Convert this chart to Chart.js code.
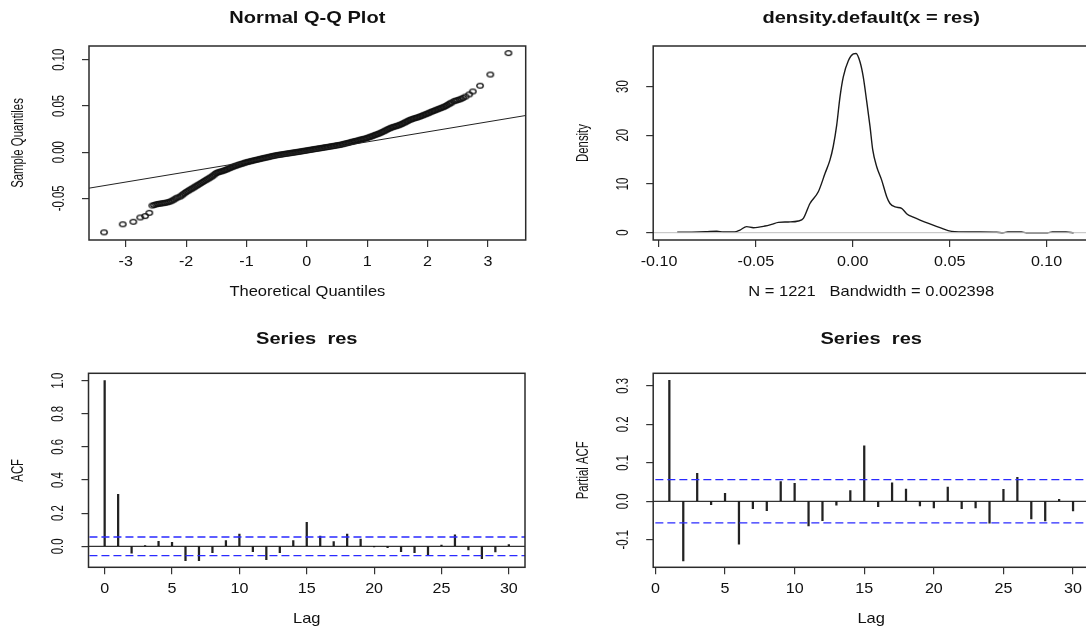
<!DOCTYPE html>
<html>
<head>
<meta charset="utf-8">
<script src="https://cdn.jsdelivr.net/npm/chart.js@4.4.1/dist/chart.umd.min.js"></script>
<style>
  html, body { margin: 0; padding: 0; background: #fff; overflow: hidden; }
  #wrap { position: relative; width: 1086px; height: 628px; overflow: hidden; background: #fff; }
  canvas { position: absolute; }
</style>
</head>
<body>
<div id="wrap">
  <canvas id="qq" width="543" height="314" style="left:0;top:0"></canvas>
  <canvas id="dens" width="560" height="314" style="left:543px;top:0"></canvas>
  <canvas id="acf" width="543" height="314" style="left:0;top:314px"></canvas>
  <canvas id="pacf" width="560" height="314" style="left:543px;top:314px"></canvas>
</div>
<script>
// ---- Normal Q-Q plot of the residuals ----
const qqTheo = [
  // lower tail
  -3.36, -3.05, -2.875, -2.76, -2.68, -2.61, -2.56, -2.53, -2.50, -2.47, -2.44,
  -2.41, -2.38, -2.35, -2.32, -2.29, -2.26, -2.23, -2.20, -2.17, -2.14,
  // body
  -2.100, -2.075, -2.050, -2.025, -2.000, -1.975, -1.950, -1.925, -1.900, -1.875,
  -1.850, -1.825, -1.800, -1.775, -1.750, -1.725, -1.700, -1.675, -1.650, -1.625,
  -1.600, -1.575, -1.550, -1.525, -1.500, -1.475, -1.450, -1.425, -1.400, -1.375,
  -1.350, -1.325, -1.300, -1.275, -1.250, -1.225, -1.200, -1.175, -1.150, -1.125,
  -1.100, -1.075, -1.050, -1.025, -1.000, -0.975, -0.950, -0.925, -0.900, -0.875,
  -0.850, -0.825, -0.800, -0.775, -0.750, -0.725, -0.700, -0.675, -0.650, -0.625,
  -0.600, -0.575, -0.550, -0.525, -0.500, -0.475, -0.450, -0.425, -0.400, -0.375,
  -0.350, -0.325, -0.300, -0.275, -0.250, -0.225, -0.200, -0.175, -0.150, -0.125,
  -0.100, -0.075, -0.050, -0.025, 0.000, 0.025, 0.050, 0.075, 0.100, 0.125,
  0.150, 0.175, 0.200, 0.225, 0.250, 0.275, 0.300, 0.325, 0.350, 0.375,
  0.400, 0.425, 0.450, 0.475, 0.500, 0.525, 0.550, 0.575, 0.600, 0.625,
  0.650, 0.675, 0.700, 0.725, 0.750, 0.775, 0.800, 0.825, 0.850, 0.875,
  0.900, 0.925, 0.950, 0.975, 1.000, 1.025, 1.050, 1.075, 1.100, 1.125,
  1.150, 1.175, 1.200, 1.225, 1.250, 1.275, 1.300, 1.325, 1.350, 1.375,
  1.400, 1.425, 1.450, 1.475, 1.500, 1.525, 1.550, 1.575, 1.600, 1.625,
  1.650, 1.675, 1.700, 1.725, 1.750, 1.775, 1.800, 1.825, 1.850, 1.875,
  1.900, 1.925, 1.950, 1.975, 2.000, 2.025, 2.050, 2.075, 2.100, 2.125,
  2.150, 2.175, 2.200, 2.225, 2.250, 2.275, 2.300, 2.325, 2.350, 2.375, 2.400,
  // upper tail
  2.44, 2.47, 2.50, 2.53, 2.56, 2.59, 2.63, 2.69, 2.75, 2.87, 3.04, 3.34
];
const qqSample = [
  -0.0868, -0.0781, -0.0754, -0.0707, -0.0692, -0.0657, -0.0578, -0.0572, -0.0566, -0.0561, -0.0558,
  -0.0555, -0.0552, -0.0549, -0.0545, -0.0540, -0.0533, -0.0524, -0.0513, -0.0500, -0.0490,
  -0.0481, -0.0468, -0.0456, -0.0444, -0.0432, -0.0422, -0.0412, -0.0402, -0.0393, -0.0383,
  -0.0373, -0.0363, -0.0353, -0.0343, -0.0333, -0.0323, -0.0313, -0.0303, -0.0294, -0.0284,
  -0.0274, -0.0264, -0.0252, -0.0239, -0.0226, -0.0219, -0.0214, -0.0209, -0.0205, -0.0199,
  -0.0193, -0.0186, -0.0179, -0.0172, -0.0165, -0.0158, -0.0152, -0.0146, -0.0141, -0.0135,
  -0.0130, -0.0125, -0.0120, -0.0114, -0.0109, -0.0105, -0.0101, -0.0097, -0.0093, -0.0089,
  -0.0085, -0.0081, -0.0077, -0.0073, -0.0069, -0.0066, -0.0062, -0.0058, -0.0055, -0.0051,
  -0.0047, -0.0043, -0.0040, -0.0036, -0.0033, -0.0030, -0.0028, -0.0025, -0.0023, -0.0020,
  -0.0017, -0.0015, -0.0012, -0.0010, -0.0007, -0.0005, -0.0002, 0.0000, 0.0003, 0.0005,
  0.0008, 0.0011, 0.0014, 0.0016, 0.0019, 0.0022, 0.0025, 0.0027, 0.0030, 0.0033,
  0.0036, 0.0038, 0.0041, 0.0043, 0.0046, 0.0049, 0.0052, 0.0054, 0.0057, 0.0060,
  0.0063, 0.0065, 0.0068, 0.0071, 0.0074, 0.0076, 0.0079, 0.0083, 0.0087, 0.0091,
  0.0095, 0.0099, 0.0103, 0.0108, 0.0112, 0.0116, 0.0120, 0.0124, 0.0128, 0.0133,
  0.0137, 0.0141, 0.0145, 0.0149, 0.0154, 0.0160, 0.0166, 0.0172, 0.0178, 0.0185,
  0.0191, 0.0197, 0.0203, 0.0210, 0.0218, 0.0226, 0.0234, 0.0243, 0.0251, 0.0258,
  0.0265, 0.0271, 0.0276, 0.0281, 0.0286, 0.0292, 0.0298, 0.0306, 0.0314, 0.0322,
  0.0330, 0.0339, 0.0347, 0.0353, 0.0359, 0.0365, 0.0370, 0.0375, 0.0380, 0.0386,
  0.0392, 0.0399, 0.0406, 0.0412, 0.0419, 0.0426, 0.0433, 0.0440, 0.0446, 0.0453,
  0.0459, 0.0466, 0.0472, 0.0479, 0.0485, 0.0492, 0.0499, 0.0509, 0.0519, 0.0528, 0.0538,
  0.0552, 0.0558, 0.0564, 0.0570, 0.0578, 0.0588, 0.0602, 0.0625, 0.0657, 0.0719, 0.0840, 0.1072
];
const qqLineX = [-3.61, 3.63];
const qqLineY = [-0.0390, 0.0397];
const qqXTicks = [-3, -2, -1, 0, 1, 2, 3];
const qqXLabels = ['-3', '-2', '-1', '0', '1', '2', '3'];
const qqYTicks = [-0.05, 0, 0.05, 0.10];
const qqYLabels = ['-0.05', '0.00', '0.05', '0.10'];

// ---- kernel density of the residuals ----
const densX = [
  -0.0906, -0.0830, -0.0760, -0.0702, -0.0668, -0.0610, -0.0582, -0.0548, -0.0513, -0.0453,
  -0.0419, -0.0384, -0.0333, -0.0281, -0.0255, -0.0221, -0.0178, -0.0143, -0.0118, -0.0101,
  -0.0083, -0.0066, -0.0049, -0.0023, 0.0003, 0.0017, 0.0037, 0.0054, 0.0072, 0.0089,
  0.0103, 0.0123, 0.0149, 0.0175, 0.0192, 0.0218, 0.0252, 0.0281, 0.0312, 0.0347,
  0.0398, 0.0450, 0.0510, 0.0614, 0.0742, 0.0775, 0.0800, 0.0870, 0.0895, 0.1005,
  0.1030, 0.1100, 0.1140
];
const densY = [
  0.08, 0.10, 0.18, 0.30, 0.14, 0.14, 0.55, 1.24, 1.03, 1.37,
  1.71, 2.12, 2.20, 2.40, 2.95, 6.0, 8.4, 12.2, 14.9, 17.7,
  22.1, 27.9, 32.0, 35.3, 36.7, 36.8, 35.1, 32.0, 26.9, 21.8,
  17.0, 13.6, 10.8, 7.4, 6.0, 5.3, 5.0, 3.8, 3.2, 2.6,
  1.8, 1.03, 0.28, 0.14, 0.08, 0.0, 0.13, 0.13, 0.0, 0.0,
  0.13, 0.13, 0.0
];
const densXTicks = [-0.10, -0.05, 0, 0.05, 0.10];
const densXLabels = ['-0.10', '-0.05', '0.00', '0.05', '0.10'];
const densYTicks = [0, 10, 20, 30];
const densYLabels = ['0', '10', '20', '30'];

// ---- autocorrelations ----
const acfLags = [0, 1, 2, 3, 4, 5, 6, 7, 8, 9, 10, 11, 12, 13, 14, 15,
  16, 17, 18, 19, 20, 21, 22, 23, 24, 25, 26, 27, 28, 29, 30];
const acfValues = [1.0, 0.314, -0.042, 0.003, 0.030, 0.024, -0.087, -0.087, -0.038, 0.034, 0.074,
  -0.032, -0.080, -0.038, 0.034, 0.145, 0.062, 0.028, 0.074, 0.044, -0.002,
  -0.008, -0.032, -0.038, -0.056, 0.008, 0.070, -0.022, -0.074, -0.034, 0.010];
const pacfLags = [1, 2, 3, 4, 5, 6, 7, 8, 9, 10, 11, 12, 13, 14, 15,
  16, 17, 18, 19, 20, 21, 22, 23, 24, 25, 26, 27, 28, 29, 30];
const pacfValues = [0.314, -0.155, 0.073, -0.009, 0.021, -0.111, -0.019, -0.024, 0.051, 0.047,
  -0.064, -0.050, -0.010, 0.028, 0.144, -0.014, 0.048, 0.032, -0.012, -0.017,
  0.037, -0.019, -0.017, -0.057, 0.031, 0.062, -0.046, -0.051, 0.005, -0.025];
const ciBound = 0.0561;
const lagTicks = [0, 5, 10, 15, 20, 25, 30];
const lagLabels = ['0', '5', '10', '15', '20', '25', '30'];
const acfYTicks = [0, 0.2, 0.4, 0.6, 0.8, 1.0];
const acfYLabels = ['0.0', '0.2', '0.4', '0.6', '0.8', '1.0'];
const pacfYTicks = [-0.1, 0, 0.1, 0.2, 0.3];
const pacfYLabels = ['-0.1', '0.0', '0.1', '0.2', '0.3'];

const FAM = "'Liberation Sans', Arial, sans-serif";
const MAIN = 'bold 17px ' + FAM;
const TICK = '14px ' + FAM;
const LAB = '15px ' + FAM;
const VTXT = '16px ' + FAM;
const INK = '#111';

// text in the old base-graphics look: horizontal text a bit wide, rotated text narrow
function put(ctx, str, x, y, font, stretch, vertical) {
  ctx.save();
  ctx.translate(x, y);
  if (vertical) ctx.rotate(-Math.PI / 2);
  ctx.scale(stretch, 1);
  ctx.font = font;
  ctx.fillStyle = INK;
  ctx.textAlign = 'center';
  ctx.textBaseline = 'middle';
  ctx.fillText(str, 0, 0);
  ctx.restore();
}

const rText = {
  id: 'rText',
  afterDraw(chart, args, o) {
    const { ctx, chartArea: a, scales: { x, y } } = chart;
    ctx.save();
    ctx.lineWidth = 1.5;
    ctx.strokeStyle = '#2b2b2b';
    ctx.strokeRect(a.left, a.top, a.right - a.left, a.bottom - a.top);
    ctx.restore();
    const cx = (a.left + a.right) / 2;
    const cy = (a.top + a.bottom) / 2;
    o.xLabels.forEach((t, i) => put(ctx, t, x.getPixelForValue(o.xTicks[i]), a.bottom + 22, TICK, 1.15));
    o.yLabels.forEach((t, i) => put(ctx, t, a.left - 29.5, y.getPixelForValue(o.yTicks[i]), VTXT, 0.71, true));
    put(ctx, o.title, cx, o.titleY, MAIN, 1.18);
    put(ctx, o.xTitle, cx, a.bottom + 51.5, LAB, 1.1);
    put(ctx, o.yTitle, a.left - 70, cy, VTXT, 0.71, true);
  }
};

function axis(range, ticks, fit) {
  return {
    type: 'linear',
    min: range[0],
    max: range[1],
    offset: false,
    ticks: { display: false },
    afterBuildTicks: s => { s.ticks = ticks.map(v => ({ value: v })); },
    afterFit: fit,
    grid: { display: true, offset: false, drawOnChartArea: false, drawTicks: true, tickLength: 7, color: '#333', lineWidth: 1.2 },
    border: { display: false }
  };
}

function panel(id, p) {
  const cv = document.getElementById(id);
  const W = cv.width, H = cv.height;
  return new Chart(cv, {
    type: p.type,
    data: { datasets: p.datasets },
    options: {
      responsive: false,
      animation: false,
      devicePixelRatio: 1,
      layout: { padding: { top: p.area.top, right: W - p.area.right, left: 0, bottom: 0 } },
      plugins: {
        legend: { display: false },
        tooltip: { enabled: false },
        rText: Object.assign({ xTicks: p.xTicks, yTicks: p.yTicks }, p.text)
      },
      scales: {
        x: axis(p.xRange, p.xTicks, s => { s.height = H - p.area.bottom; }),
        y: axis(p.yRange, p.yTicks, s => { s.width = p.area.left; })
      }
    },
    plugins: [rText]
  });
}

// open circle marker, a little wider than tall like the original device output
function ring() {
  const c = document.createElement('canvas');
  c.width = 10;
  c.height = 8;
  const g = c.getContext('2d');
  g.strokeStyle = '#111';
  g.lineWidth = 1.3;
  g.beginPath();
  g.ellipse(5, 4, 3.25, 2.35, 0, 0, Math.PI * 2);
  g.stroke();
  return c;
}

function flatLine(yv, color, dash) {
  return {
    type: 'line',
    data: [{ x: -100, y: yv }, { x: 100, y: yv }],
    borderColor: color,
    borderWidth: dash ? 1.3 : 1,
    borderDash: dash || [],
    pointRadius: 0,
    order: 0
  };
}

panel('qq', {
  type: 'scatter',
  area: { left: 89, right: 525.7, top: 46, bottom: 240 },
  xRange: [-3.609, 3.627],
  yRange: [-0.0951, 0.1149],
  xTicks: qqXTicks,
  yTicks: qqYTicks,
  datasets: [
    {
      type: 'line',
      data: qqLineX.map((x, i) => ({ x, y: qqLineY[i] })),
      borderColor: '#222',
      borderWidth: 1,
      pointRadius: 0,
      order: 0
    },
    {
      data: qqTheo.map((x, i) => ({ x, y: qqSample[i] })),
      pointStyle: ring(),
      pointRadius: 3,
      order: 1
    }
  ],
  text: {
    xLabels: qqXLabels, yLabels: qqYLabels, titleY: 18.3,
    title: 'Normal Q-Q Plot', xTitle: 'Theoretical Quantiles', yTitle: 'Sample Quantiles'
  }
});

panel('dens', {
  type: 'line',
  area: { left: 110.2, right: 546.2, top: 46, bottom: 240 },
  xRange: [-0.1030, 0.1220],
  yRange: [-1.5, 38.34],
  xTicks: densXTicks,
  yTicks: densYTicks,
  datasets: [
    flatLine(0, '#bebebe'),
    {
      data: densX.map((x, i) => ({ x, y: densY[i] })),
      borderColor: '#1a1a1a',
      borderWidth: 1.4,
      pointRadius: 0,
      cubicInterpolationMode: 'monotone',
      order: 1
    }
  ],
  text: {
    xLabels: densXLabels, yLabels: densYLabels, titleY: 18.3,
    title: 'density.default(x = res)', xTitle: 'N = 1221   Bandwidth = 0.002398', yTitle: 'Density'
  }
});

function spikes(lags, vals) {
  return {
    type: 'bar',
    data: lags.map((x, i) => ({ x, y: vals[i] })),
    backgroundColor: '#222',
    barThickness: 1.6,
    order: 1
  };
}

panel('acf', {
  type: 'bar',
  area: { left: 88.5, right: 525, top: 59.3, bottom: 253.3 },
  xRange: [-1.2, 31.2],
  yRange: [-0.1268, 1.0447],
  xTicks: lagTicks,
  yTicks: acfYTicks,
  datasets: [
    flatLine(0, '#000'),
    flatLine(ciBound, '#2a2aff', [8, 4]),
    flatLine(-ciBound, '#2a2aff', [8, 4]),
    spikes(acfLags, acfValues)
  ],
  text: {
    xLabels: lagLabels, yLabels: acfYLabels, titleY: 25.8,
    title: 'Series  res', xTitle: 'Lag', yTitle: 'ACF'
  }
});

panel('pacf', {
  type: 'bar',
  area: { left: 110.2, right: 546.2, top: 59.3, bottom: 253.3 },
  xRange: [-0.16, 31.16],
  yRange: [-0.1714, 0.3325],
  xTicks: lagTicks,
  yTicks: pacfYTicks,
  datasets: [
    flatLine(0, '#000'),
    flatLine(ciBound, '#2a2aff', [8, 4]),
    flatLine(-ciBound, '#2a2aff', [8, 4]),
    spikes(pacfLags, pacfValues)
  ],
  text: {
    xLabels: lagLabels, yLabels: pacfYLabels, titleY: 25.8,
    title: 'Series  res', xTitle: 'Lag', yTitle: 'Partial ACF'
  }
});
</script>
</body>
</html>
